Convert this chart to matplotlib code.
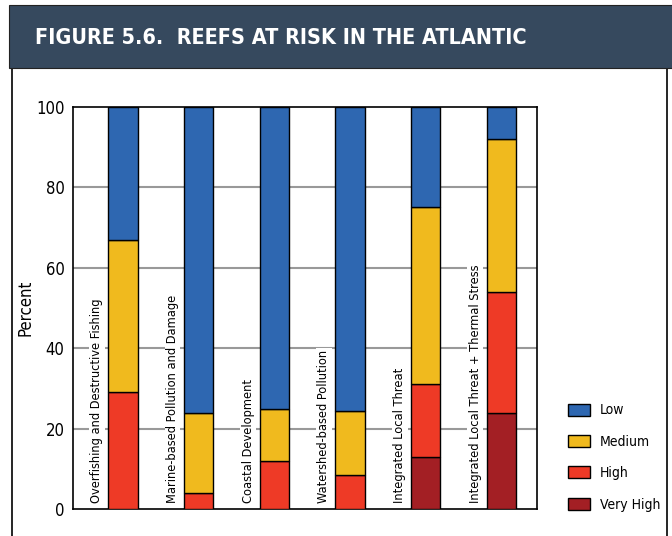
import matplotlib
matplotlib.use("Agg")
import matplotlib.pyplot as plt
from matplotlib.patches import Rectangle, Patch
import numpy as np

plt.rcParams['font.family'] = ['DejaVu Sans']
plt.rcParams['font.stretch'] = 'condensed'

categories = ["Overfishing and Destructive Fishing",
              "Marine-based Pollution and Damage",
              "Coastal Development",
              "Watershed-based Pollution",
              "Integrated Local Threat",
              "Integrated Local Threat + Thermal Stress"]
very_high = [0, 0, 0, 0, 13, 24]
high = [29, 4, 12, 8.5, 18, 30]
medium = [38, 20, 13, 16, 44, 38]
low = [33, 76, 75, 75.5, 25, 8]
series_names = ["Low", "Medium", "High", "Very High"]
colors = {"Low": "#2E67B1", "Medium": "#F0BA1E", "High": "#EE3A26", "Very High": "#A31F24"}
yticks = [0, 20, 40, 60, 80, 100]

fig = plt.figure(figsize=(6.72, 5.36), dpi=100)
W, H = 672, 536

# banner and frame
fig.patches.append(Rectangle((12 / W, -0.05), (667 - 12) / W, (1 - 68 / H) + 0.05,
                             transform=fig.transFigure, facecolor="white",
                             edgecolor="black", lw=1.2, zorder=-3))
fig.patches.append(Rectangle((9 / W, 1 - 68 / H), 1, 63 / H, transform=fig.transFigure,
                             facecolor="#36495E", edgecolor="#222222", lw=0.8, zorder=-2))
fig.text(35 / W, 1 - 38 / H, "FIGURE 5.6.  REEFS AT RISK IN THE ATLANTIC", color="white",
         fontsize=15.5, fontweight="bold", va="center", ha="left")

ax = fig.add_axes([73 / W, 1 - 509 / H, (537 - 73) / W, (509 - 107) / H])
ax.set_zorder(2)
x = np.arange(len(categories))
bw = 0.385
bottom = np.zeros(len(categories))
stack = [("Very High", very_high), ("High", high), ("Medium", medium), ("Low", low)]
for name, vals in stack:
    vals = np.array(vals, dtype=float)
    mask = vals > 0
    ax.bar(x[mask], vals[mask], bw, bottom=bottom[mask], color=colors[name],
           edgecolor="black", linewidth=1.0, zorder=3)
    bottom += vals

ax.set_xlim(-0.66, 5.47)
ax.set_ylim(0, 100)
ax.set_yticks(yticks)
ax.set_yticklabels([str(t) for t in yticks], fontsize=12)
ax.tick_params(axis="y", length=0, pad=6)
ax.set_xticks([])
for yv in yticks[1:-1]:
    ax.axhline(yv, color="#999999", lw=1.5, zorder=1)
for s in ax.spines.values():
    s.set_linewidth(1.2)
ax.set_ylabel("Percent", fontsize=12)
ax.yaxis.set_label_coords(-0.082, 0.5)

for xi, cat in zip(x, categories):
    ax.text(xi - 0.345, 1.5, cat, rotation=90, ha="center", va="bottom", fontsize=9.2,
            zorder=2, bbox=dict(facecolor="white", edgecolor="none", pad=1.0))

handles = [Patch(facecolor=colors[n], edgecolor="black", lw=1.0) for n in series_names]
leg = fig.legend(handles, series_names, loc="lower left", bbox_to_anchor=(555 / W, 1 - 524 / H),
                 frameon=False, fontsize=10, handlelength=1.6, handleheight=0.95,
                 labelspacing=1.25, handletextpad=0.75)
leg.set_zorder(3)

fig.savefig("out.png", dpi=100)
